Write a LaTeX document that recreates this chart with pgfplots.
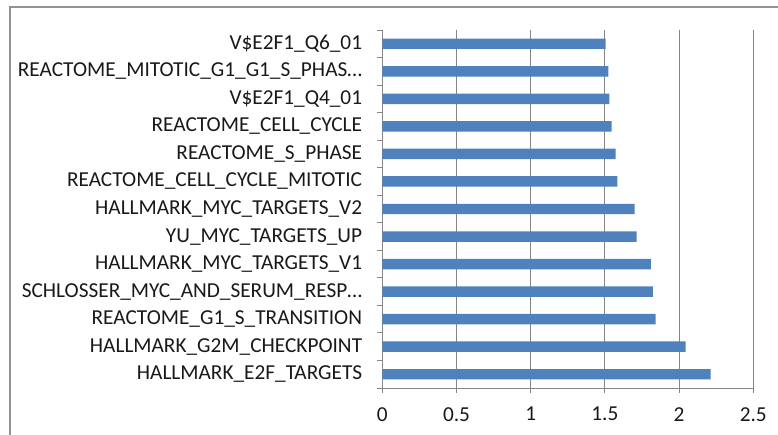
\documentclass[border=0pt]{standalone}
\usepackage{pgfplots}
\pgfplotsset{compat=1.18}
\usepackage{fontspec}
\setmainfont{Carlito}
\definecolor{barblue}{HTML}{4F81BD}
\definecolor{gridgray}{HTML}{868686}
\begin{document}
\begin{tikzpicture}
\begin{axis}[
  at={(382.3pt,46pt)}, anchor=south west,
  scale only axis, width=371pt, height=358pt,
  xmin=0, xmax=2.5, ymin=-0.5, ymax=12.5,
  xbar, bar width=0.38,
  axis lines*=left,
  axis line style={gridgray, line width=0.9pt},
  tick align=outside,
  major tick length=5pt, minor tick length=5pt,
  xtick={0,0.5,1,1.5,2,2.5},
  xticklabels={0,0.5,1,1.5,2,2.5},
  xmajorgrids, grid style={gridgray, line width=0.9pt},
  x tick style={gridgray, line width=0.9pt},
  ytick={0,1,2,3,4,5,6,7,8,9,10,11,12},
  yticklabels={{HALLMARK\_E2F\_TARGETS}, {HALLMARK\_G2M\_CHECKPOINT}, {REACTOME\_G1\_S\_TRANSITION}, {SCHLOSSER\_MYC\_AND\_SERUM\_RESP…}, {HALLMARK\_MYC\_TARGETS\_V1}, {YU\_MYC\_TARGETS\_UP}, {HALLMARK\_MYC\_TARGETS\_V2}, {REACTOME\_CELL\_CYCLE\_MITOTIC}, {REACTOME\_S\_PHASE}, {REACTOME\_CELL\_CYCLE}, {V\$E2F1\_Q4\_01}, {REACTOME\_MITOTIC\_G1\_G1\_S\_PHAS…}, {V\$E2F1\_Q6\_01}},
  minor ytick={-0.5,0.5,1.5,2.5,3.5,4.5,5.5,6.5,7.5,8.5,9.5,10.5,11.5,12.5},
  y tick style={draw=none},
  minor y tick style={draw=gridgray, line width=0.9pt},
  ymajorgrids=false,
  tick label style={font=\fontsize{21.3}{25}\selectfont, text=black!90},
  xticklabel style={inner sep=0pt, anchor=north, yshift=-14pt},
  yticklabel style={inner sep=0pt, anchor=east, xshift=-15pt},
  /pgf/number format/assume math mode=true,
  clip=false,
]
\addplot[fill=barblue, draw=none] coordinates {
(2.213,0) (2.044,1) (1.842,2) (1.824,3) (1.809,4) (1.714,5) (1.701,6)
(1.584,7) (1.572,8) (1.546,9) (1.530,10) (1.523,11) (1.505,12)};
\end{axis}
\draw[gridgray!90, line width=1.2pt] (10pt,-10pt) rectangle (800pt,427pt);
\pgfresetboundingbox
\useasboundingbox (0pt,0pt) rectangle (778pt,434pt);
\end{tikzpicture}
\end{document}
